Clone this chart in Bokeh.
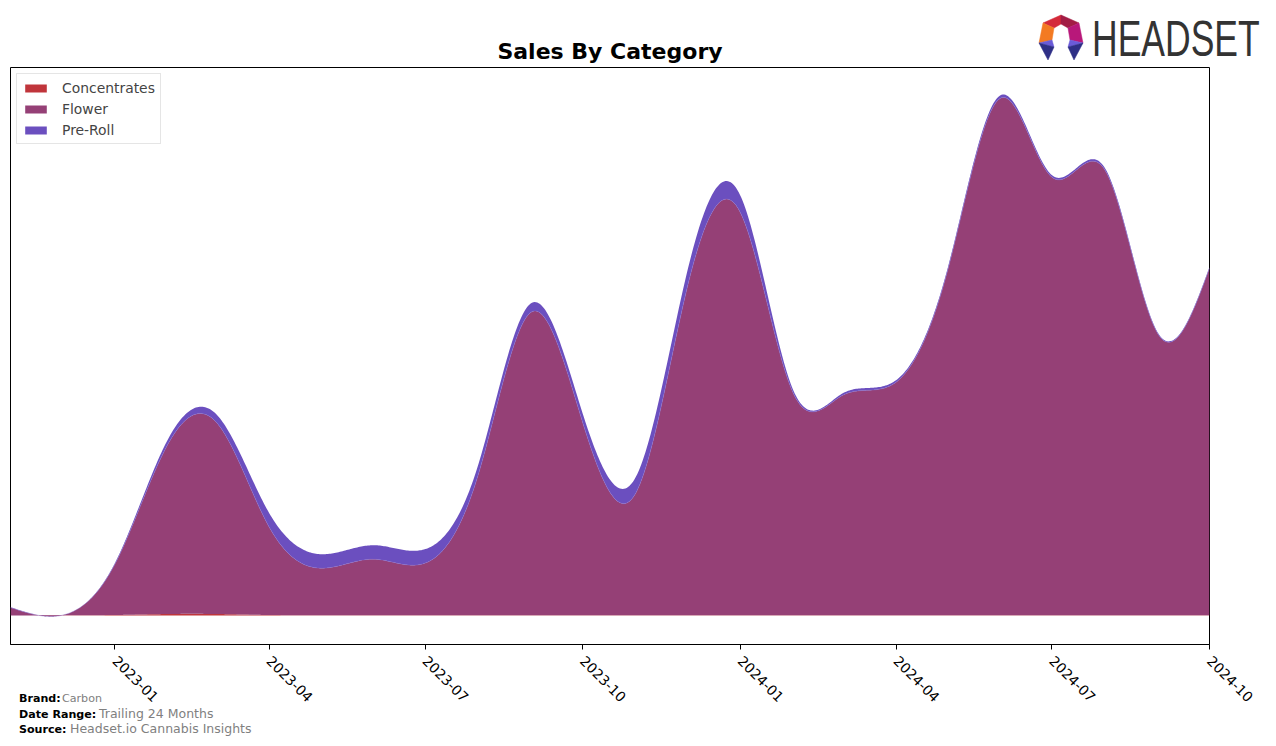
import numpy as np
import pandas as pd
from bokeh.plotting import figure
from bokeh.layouts import column
from bokeh.models import (Range1d, FixedTicker, Legend, LegendItem,
                          ColumnDataSource, Div)
from bokeh.embed import file_html
from bokeh.resources import INLINE

# ---------------- data (arbitrary units) ----------------
months = ["2022-11", "2022-12", "2023-01", "2023-02", "2023-03", "2023-04",
          "2023-05", "2023-06", "2023-07", "2023-08", "2023-09", "2023-10",
          "2023-11", "2023-12", "2024-01", "2024-02", "2024-03", "2024-04",
          "2024-05", "2024-06", "2024-07", "2024-08", "2024-09", "2024-10"]
concentrates = [0.0, 0.2, 0.5, 1.5, 1.5, 0.5, 0.3, 0.3, 0.3, 0.3, 0.3, 0.3,
                0.3, 0.3, 0.3, 0.3, 0.3, 0.3, 0.3, 0.3, 0.3, 0.3, 0.3, 0.3]
flower = [8, 0, 51, 170, 192, 88, 47, 56, 52, 140, 303, 193,
          122, 327, 403, 222, 220, 233, 344, 517, 438, 445, 281, 347]
pre_roll = [0.3, 0, 1, 5, 8, 14, 14, 14, 14, 10, 9, 9,
            16, 16, 17, 3, 2, 2, 2, 3, 2, 2, 1, 1]
tick_labels = ["2023-01", "2023-04", "2023-07", "2023-10",
               "2024-01", "2024-04", "2024-07", "2024-10"]
series_names = ["Concentrates", "Flower", "Pre-Roll"]
series_colors = ["#C0353B", "#954076", "#6B4FBF"]

# ---------------- smoothing (natural cubic spline through the points) --------
def spline(xk, yk, xn):
    xk = np.asarray(xk, float)
    yk = np.asarray(yk, float)
    n = len(xk)
    h = np.diff(xk)
    A = np.zeros((n, n))
    b = np.zeros(n)
    A[0, 0] = 1.0
    A[n - 1, n - 1] = 1.0
    for i in range(1, n - 1):
        A[i, i - 1] = h[i - 1]
        A[i, i] = 2 * (h[i - 1] + h[i])
        A[i, i + 1] = h[i]
        b[i] = 6 * ((yk[i + 1] - yk[i]) / h[i] - (yk[i] - yk[i - 1]) / h[i - 1])
    M = np.linalg.solve(A, b)
    idx = np.clip(np.searchsorted(xk, xn) - 1, 0, n - 2)
    x0, x1 = xk[idx], xk[idx + 1]
    hh = x1 - x0
    return (M[idx] * (x1 - xn) ** 3 / (6 * hh) + M[idx + 1] * (xn - x0) ** 3 / (6 * hh)
            + (yk[idx] / hh - M[idx] * hh / 6) * (x1 - xn)
            + (yk[idx + 1] / hh - M[idx + 1] * hh / 6) * (xn - x0))

dates = pd.to_datetime([m + "-01" for m in months])
epoch = pd.Timestamp("1970-01-01")
xd = np.array([(d - epoch) / pd.Timedelta(days=1) for d in dates])
xs_days = np.linspace(xd[0], xd[-1], 900)
xs_ms = xs_days * 86400000.0

sm = [spline(xd, s, xs_days) for s in (concentrates, flower, pre_roll)]
b0 = np.zeros_like(xs_days)
b1 = sm[0]
b2 = sm[0] + sm[1]
b3 = sm[0] + sm[1] + sm[2]
src = ColumnDataSource(dict(x=xs_ms, b0=b0, b1=b1, b2=b2, b3=b3))

tick_ms = [(pd.Timestamp(t + "-01") - epoch) / pd.Timedelta(milliseconds=1) for t in tick_labels]

# ---------------- figure ----------------
p = figure(width=1276, height=746, output_backend="svg", toolbar_location=None,
           x_range=Range1d(xs_ms[0], xs_ms[-1]), y_range=Range1d(-29, 548),
           min_border_left=10, min_border_right=67, min_border_top=67,
           min_border_bottom=102, background_fill_color="white",
           border_fill_color="white")
p.title.text = "Sales By Category"
p.title.align = "center"
p.title.text_font = "DejaVu Sans"
p.title.text_font_size = "22px"
p.title.text_font_style = "bold"
p.title.text_color = "black"
p.title.standoff = 7

p.xgrid.visible = False
p.ygrid.visible = False
p.yaxis.visible = False
p.outline_line_color = "black"
p.outline_line_width = 1
p.outline_line_alpha = 1

r_c = p.varea(x="x", y1="b0", y2="b1", source=src, fill_color=series_colors[0])
r_f = p.varea(x="x", y1="b1", y2="b2", source=src, fill_color=series_colors[1])
r_p = p.varea(x="x", y1="b2", y2="b3", source=src, fill_color=series_colors[2])
p.line(x="x", y="b2", source=src, line_color="#8a6fd0", line_width=0.6, line_alpha=0.7)

ax = p.xaxis[0]
ax.ticker = FixedTicker(ticks=tick_ms)
ax.major_label_overrides = {t: l for t, l in zip(tick_ms, tick_labels)}
ax.major_label_orientation = -np.pi / 4
ax.major_label_text_font = "DejaVu Sans"
ax.major_label_text_font_size = "13.9px"
ax.major_label_text_color = "black"
ax.major_tick_out = 5
ax.major_tick_in = 0
ax.minor_tick_out = 0
ax.minor_tick_in = 0
ax.axis_line_color = "black"
ax.major_tick_line_color = "black"
ax.major_label_standoff = 9

legend = Legend(items=[LegendItem(label=series_names[0], renderers=[r_c]),
                       LegendItem(label=series_names[1], renderers=[r_f]),
                       LegendItem(label=series_names[2], renderers=[r_p])],
                location="top_left")
legend.label_text_font = "DejaVu Sans"
legend.label_text_font_size = "13.9px"
legend.glyph_width = 27
legend.glyph_height = 10
legend.label_standoff = 13
legend.label_height = 17
legend.spacing = 4
legend.padding = 5
legend.margin = 6
legend.border_line_color = "#cccccc"
legend.border_line_width = 1
legend.background_fill_color = "white"
legend.background_fill_alpha = 1
p.add_layout(legend)

# ---------------- footer + logo (HTML overlay on top of the figure) ----------
def span(text, left, center_y, size, color="#000000", weight="normal",
         font="DejaVu Sans"):
    top = center_y - 0.5 * size
    return (f'<span style="position:absolute;left:{left}px;top:{top:.1f}px;'
            f'font-family:\'{font}\';font-size:{size}px;font-weight:{weight};'
            f'line-height:{size}px;color:{color};white-space:nowrap;">{text}</span>')

T, UR, R, BRt = (1061, 15), (1079, 23), (1083, 43), (1074, 60)
BRi, Ri, URi, Ti = (1068, 47), (1070, 40), (1068, 28), (1061, 24)
ULi, Li, BLi, BLt = (1054, 28), (1052, 40), (1054, 47), (1048, 60)
L, UL = (1039, 43), (1043, 23)
pieces = [
    ([UL, T, Ti, ULi], "#D42A3A"),
    ([T, UR, URi, Ti], "#A21D45"),
    ([UL, ULi, Li, L], "#F37A22"),
    ([UR, R, Ri, URi], "#B8187A"),
    ([L, Li, BLi], "#6A5BD8"),
    ([L, BLi, BLt], "#2E2F86"),
    ([R, Ri, BRi], "#6A5BD8"),
    ([R, BRi, BRt], "#2E2F86"),
]
polys = "".join(
    f'<polygon points="{" ".join(f"{x},{y}" for x, y in pts)}" fill="{col}" '
    f'stroke="{col}" stroke-width="0.5"/>' for pts, col in pieces)
logo_svg = (f'<svg style="position:absolute;left:0px;top:0px;" width="1276" '
            f'height="70" xmlns="http://www.w3.org/2000/svg">{polys}</svg>')

html = ('<div style="position:relative;width:1276px;height:746px;">'
        + logo_svg
        + '<span style="position:absolute;left:1092px;top:13.7px;'
          'font-family:\'Liberation Sans\';font-size:50px;line-height:50px;'
          'color:#333333;white-space:nowrap;display:inline-block;'
          'transform:scaleX(0.71);transform-origin:0 0;">HEADSET</span>'
        + span("Brand:", 19, 698, 11.1, weight="bold")
        + span("Carbon", 62, 698, 11.1, color="#808080")
        + span("Date Range:", 19, 714, 11.1, weight="bold")
        + span("Trailing 24 Months", 99, 714, 12.5, color="#808080")
        + span("Source:", 19, 729, 11.1, weight="bold")
        + span("Headset.io Cannabis Insights", 70, 729, 12.5, color="#808080")
        + '</div>')

overlay = Div(text=html, width=1276, height=746, margin=(-746, 0, 0, 0),
              styles={"position": "relative", "z-index": "10",
                      "pointer-events": "none"})

layout = column(p, overlay, spacing=0)
open("out.html", "w").write(file_html(layout, INLINE))
